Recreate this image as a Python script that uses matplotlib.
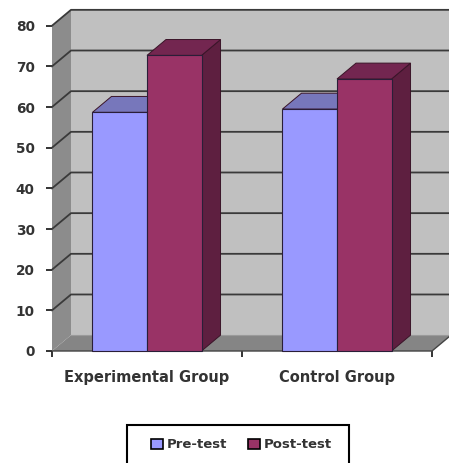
# Pre-test / post-test 3D style bar chart

import matplotlib
matplotlib.use('Agg')
import matplotlib.pyplot as plt
from matplotlib.patches import Polygon, Patch, Rectangle

# --- Data ---
groups = ['Experimental Group', 'Control Group']
pre_test = [58.7, 59.5]
post_test = [72.7, 66.9]
y_ticks = [0, 10, 20, 30, 40, 50, 60, 70, 80]

# --- Colours ---
pre_front, pre_top = '#9999FF', '#7777BB'
post_front, post_top, post_side = '#993366', '#732650', '#5E1F40'
wall, side_wall, floor = '#C0C0C0', '#8C8C8C', '#858585'
line_col = '#3A3A3A'
text_col = '#333333'

# depth of the fake 3D box, in data units
dx, dy = 0.1, 3.9
bar_w = 0.287

fig = plt.figure(figsize=(4.49, 4.63), dpi=100)
ax = fig.add_axes([52 / 449, (463 - 351) / 463, 380 / 449, 325.3 / 463])
ax.set_xlim(0, 2)
ax.set_ylim(0, 80)
ax.patch.set_visible(False)


def poly(points, color, edge='none', lw=0, z=1):
    ax.add_patch(Polygon(points, closed=True, facecolor=color, edgecolor=edge,
                         linewidth=lw, clip_on=False, zorder=z))


# --- Walls and floor ---
poly([(dx, dy), (2 + dx, dy), (2 + dx, 80 + dy), (dx, 80 + dy)], wall)
poly([(0, 0), (dx, dy), (dx, 80 + dy), (0, 80)], side_wall)
poly([(0, 0), (2, 0), (2 + dx, dy), (dx, dy)], floor)

# --- Gridlines, on the side wall and the back wall ---
for v in y_ticks[1:]:
    ax.plot([0, dx, 2 + dx], [v, v + dy, v + dy], color=line_col, lw=1.3,
            clip_on=False, zorder=2)
ax.plot([0, 2, 2 + dx], [0, 0, dy], color='#444444', lw=1.0, clip_on=False, zorder=2)
ax.plot([dx, 2 + dx], [dy, dy], color='#9A9A9A', lw=0.8, clip_on=False, zorder=2)


# --- Bars ---
def bar3d(x0, value, front, top, side, z):
    x1 = x0 + bar_w
    poly([(x1, 0), (x1 + dx, dy), (x1 + dx, value + dy), (x1, value)], side, '#3A1428', 0.7, z)
    poly([(x0, value), (x1, value), (x1 + dx, value + dy), (x0 + dx, value + dy)], top, '#3A1428', 0.7, z)
    poly([(x0, 0), (x1, 0), (x1, value), (x0, value)], front, '#2A1E38', 0.8, z)


for i in range(len(groups)):
    center = i + 0.5
    bar3d(center - bar_w, pre_test[i], pre_front, pre_top, '#55558A', 3 + i)
    bar3d(center, post_test[i], post_front, post_top, post_side, 3.5 + i)

# --- Axes ---
for s in ax.spines.values():
    s.set_visible(False)
ax.set_yticks(y_ticks)
ax.set_xticks([0, 1, 2])
ax.set_xticklabels([])
ax.tick_params(axis='y', length=4.5, width=1.2, color='#111111', pad=8,
               labelsize=9.8, labelcolor=text_col)
ax.tick_params(axis='x', length=4.5, width=1.2, color='#111111')
for lab in ax.get_yticklabels():
    lab.set_fontweight('bold')

for i, name in enumerate(groups):
    ax.text(i + 0.5 + (0 if i else 0.0), -6.4, name, ha='center', va='center', fontsize=10.5,
            fontweight='bold', color=text_col)

# --- Legend, its box runs off the bottom of the picture ---
fig.add_artist(Rectangle((127 / 449, -10 / 463), 222 / 449, 48 / 463, transform=fig.transFigure,
                         facecolor='white', edgecolor='black', linewidth=1.5))
handles = [Patch(facecolor=pre_front, edgecolor='black', linewidth=1.2, label='Pre-test'),
           Patch(facecolor=post_front, edgecolor='black', linewidth=1.2, label='Post-test')]
leg = fig.legend(handles=handles, ncol=2, loc='center left',
                 bbox_to_anchor=(151 / 449, (463 - 445) / 463), borderaxespad=0,
                 frameon=False, prop={'size': 9.5, 'weight': 'bold'}, labelcolor=text_col,
                 handlelength=0.9, handleheight=0.7, handletextpad=0.3,
                 columnspacing=1.6, borderpad=0)

fig.savefig('out.png', dpi=100)
